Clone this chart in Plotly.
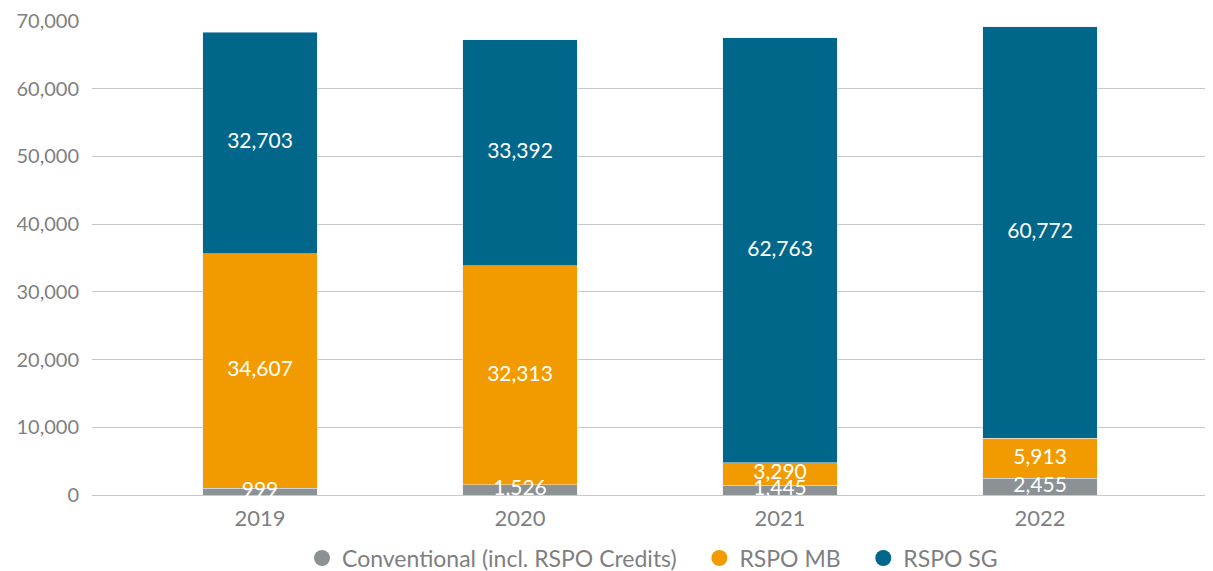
import plotly.graph_objects as go

years = ["2019", "2020", "2021", "2022"]
conventional = [999, 1526, 1445, 2455]
rspo_mb = [34607, 32313, 3290, 5913]
rspo_sg = [32703, 33392, 62763, 60772]
y_ticks = [0, 10000, 20000, 30000, 40000, 50000, 60000, 70000]

names = ["Conventional (incl. RSPO Credits)", "RSPO MB", "RSPO SG"]
legend_names = ["Conventional (incl. RSPO Credits)\u00a0\u00a0\u00a0", "RSPO MB\u00a0\u00a0\u00a0", "RSPO SG"]
colors = ["#8C9194", "#F29B00", "#00678A"]
series = [conventional, rspo_mb, rspo_sg]

font = "Lato"
fig = go.Figure()
for name, col, vals in zip(names, colors, series):
    fig.add_trace(go.Bar(
        x=years, y=vals, name=name, marker_color=col, width=0.44,
        showlegend=False, hoverinfo="skip",
    ))

# value labels drawn on top of all bars, at the middle of each segment
base = [0] * len(years)
for vals in series:
    mids = [b + v / 2 for b, v in zip(base, vals)]
    fig.add_trace(go.Scatter(
        x=years, y=mids, mode="text", text=[f"{v:,}" for v in vals],
        textposition="middle center", cliponaxis=False,
        textfont=dict(color="white", size=21, family=font),
        showlegend=False, hoverinfo="skip",
    ))
    base = [b + v for b, v in zip(base, vals)]

for name, col in zip(legend_names, colors):
    fig.add_trace(go.Scatter(
        x=[None], y=[None], mode="markers", name=name,
        marker=dict(symbol="circle", size=20, color=col),
    ))

fig.update_layout(
    barmode="stack",
    width=1205, height=563,
    margin=dict(l=84, r=0, t=11, b=76),
    plot_bgcolor="white", paper_bgcolor="white",
    font=dict(family=font, color="#7F7F7F"),
    xaxis=dict(type="category", range=[-0.646, 3.665], showgrid=False,
               tickfont=dict(size=22, color="#7F7F7F"), ticks="",
               showline=False, zeroline=False, ticklabelstandoff=8),
    yaxis=dict(range=[0, 70000], tickvals=y_ticks, tickformat=",",
               showgrid=True, gridcolor="#C8C8C8", gridwidth=1.3,
               zeroline=True, zerolinecolor="#C8C8C8", zerolinewidth=1.3,
               tickfont=dict(size=20, color="#7F7F7F"), ticks="",
               ticklabelstandoff=12, ticklabeloverflow="allow"),
    legend=dict(orientation="h", x=0.5, xanchor="center",
                yref="container", y=0.023, yanchor="middle",
                font=dict(size=23, color="#7F7F7F"), itemwidth=30,
                traceorder="normal", bgcolor="rgba(0,0,0,0)"),
)

fig.write_html("out.html")
